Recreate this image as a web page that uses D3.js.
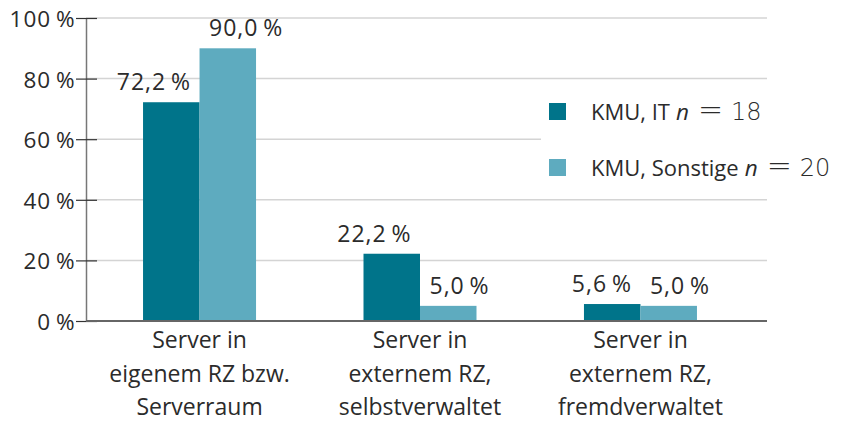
<!DOCTYPE html>
<html lang="de">
<head>
<meta charset="utf-8">
<title>Serverstandorte KMU</title>
<style>
    body { margin: 0; background: #fff; }
    svg text { font-family: "Open Sans", sans-serif; fill: #2b2b2b; }
    .grid line { stroke: #d4d4d4; stroke-width: 1.5px; }
</style>
</head>
<body>
<div id="chart"></div>
<script src="https://cdn.jsdelivr.net/npm/d3@7"></script>
<script>
    // data
    const categories = [
        ["Server in", "eigenem RZ bzw.", "Serverraum"],
        ["Server in", "externem RZ,", "selbstverwaltet"],
        ["Server in", "externem RZ,", "fremdverwaltet"]
    ];
    const seriesNames = ["KMU, IT", "KMU, Sonstige"];
    const seriesN = [18, 20];
    const itValues = [72.2, 22.2, 5.6];
    const otherValues = [90.0, 5.0, 5.0];
    const yTicks = [0, 20, 40, 60, 80, 100];
    const colors = ["#00748a", "#5eabbf"];

    const width = 841, height = 423;
    const plotLeft = 86, plotRight = 767, plotTop = 18, plotBottom = 321;

    const svg = d3.select("#chart").append("svg")
        .attr("width", width)
        .attr("height", height);

    const x = d3.scaleBand()
        .domain(d3.range(categories.length))
        .range([plotLeft, 754])
        .paddingOuter(0.015);

    const y = d3.scaleLinear().domain([0, 100]).range([plotBottom, plotTop]);

    const barW = 56.5;
    const fmt = v => v.toFixed(1).replace(".", ",") + "\u2009%";

    // gridlines
    svg.append("g")
        .attr("class", "grid")
        .selectAll("line")
        .data(yTicks.filter(t => t > 0))
        .enter().append("line")
        .attr("x1", plotLeft).attr("x2", plotRight)
        .attr("y1", d => y(d)).attr("y2", d => y(d));

    // legend backdrop hides the grid behind it
    svg.append("rect")
        .attr("x", 541).attr("y", 88)
        .attr("width", 300).attr("height", 104)
        .attr("fill", "#fff");

    // bars
    const series = [itValues, otherValues];
    series.forEach(function (vals, s) {
        svg.append("g")
            .selectAll("rect")
            .data(vals)
            .enter().append("rect")
            .attr("x", (d, i) => x(i) + x.bandwidth() / 2 + (s === 0 ? -barW : 0))
            .attr("y", d => y(d))
            .attr("width", barW)
            .attr("height", d => plotBottom - y(d))
            .attr("fill", colors[s]);

        svg.append("g")
            .selectAll("text")
            .data(vals)
            .enter().append("text")
            .attr("x", (d, i) => x(i) + x.bandwidth() / 2 + (s === 0 ? -8.5 : 9.5))
            .attr("y", d => y(d) - 12)
            .attr("text-anchor", s === 0 ? "end" : "start")
            .attr("font-size", 23)
            .attr("letter-spacing", 1)
            .text(fmt);
    });

    // y axis
    const yAxis = d3.axisLeft(y)
        .tickValues(yTicks)
        .tickSize(0)
        .tickPadding(10.5)
        .tickFormat(d => d + "\u2009%");
    const ya = svg.append("g")
        .attr("transform", "translate(" + plotLeft + ",0)")
        .call(yAxis);
    ya.select(".domain").attr("stroke", "#777").attr("stroke-width", 1.5);
    ya.selectAll(".tick text")
        .attr("font-size", 22.5)
        .attr("letter-spacing", 1)
        .attr("font-family", "'Open Sans', sans-serif")
        .attr("fill", "#2b2b2b")
        .attr("dy", "0.38em");
    ya.selectAll(".tick").append("line")
        .attr("x1", -10).attr("x2", 11)
        .attr("stroke", "#333").attr("stroke-width", 1.2);

    // baseline
    svg.append("line")
        .attr("x1", plotLeft).attr("x2", plotRight)
        .attr("y1", plotBottom).attr("y2", plotBottom)
        .attr("stroke", "#666").attr("stroke-width", 2);

    // category labels
    const cat = svg.append("g")
        .selectAll("text")
        .data(categories)
        .enter().append("text")
        .attr("text-anchor", "middle")
        .attr("font-size", 23);
    cat.selectAll("tspan")
        .data((d, i) => d.map(l => ({line: l, i: i})))
        .enter().append("tspan")
        .attr("x", d => x(d.i) + x.bandwidth() / 2)
        .attr("y", (d, j) => 348 + j * 33.5)
        .text(d => d.line);

    // legend
    const leg = svg.append("g");
    seriesNames.forEach(function (name, s) {
        const yy = 103 + s * 56;
        leg.append("rect")
            .attr("x", 549).attr("y", yy)
            .attr("width", 17).attr("height", 17)
            .attr("fill", colors[s]);
        const t = leg.append("text")
            .attr("x", 591).attr("y", yy + 16.5)
            .attr("font-size", 22);
        t.append("tspan").text(name);
        t.append("tspan").attr("dx", 6).attr("font-style", "italic").attr("font-size", 22.5).text("n");
        t.append("tspan").attr("dx", 9)
            .attr("font-family", "'DejaVu Sans', sans-serif").attr("font-weight", 200).attr("font-size", 30)
            .text("=");
        t.append("tspan").attr("dx", 8)
            .attr("font-family", "'DejaVu Sans', sans-serif").attr("font-weight", 200).attr("font-size", 24)
            .text(seriesN[s]);
    });
</script>
</body>
</html>
